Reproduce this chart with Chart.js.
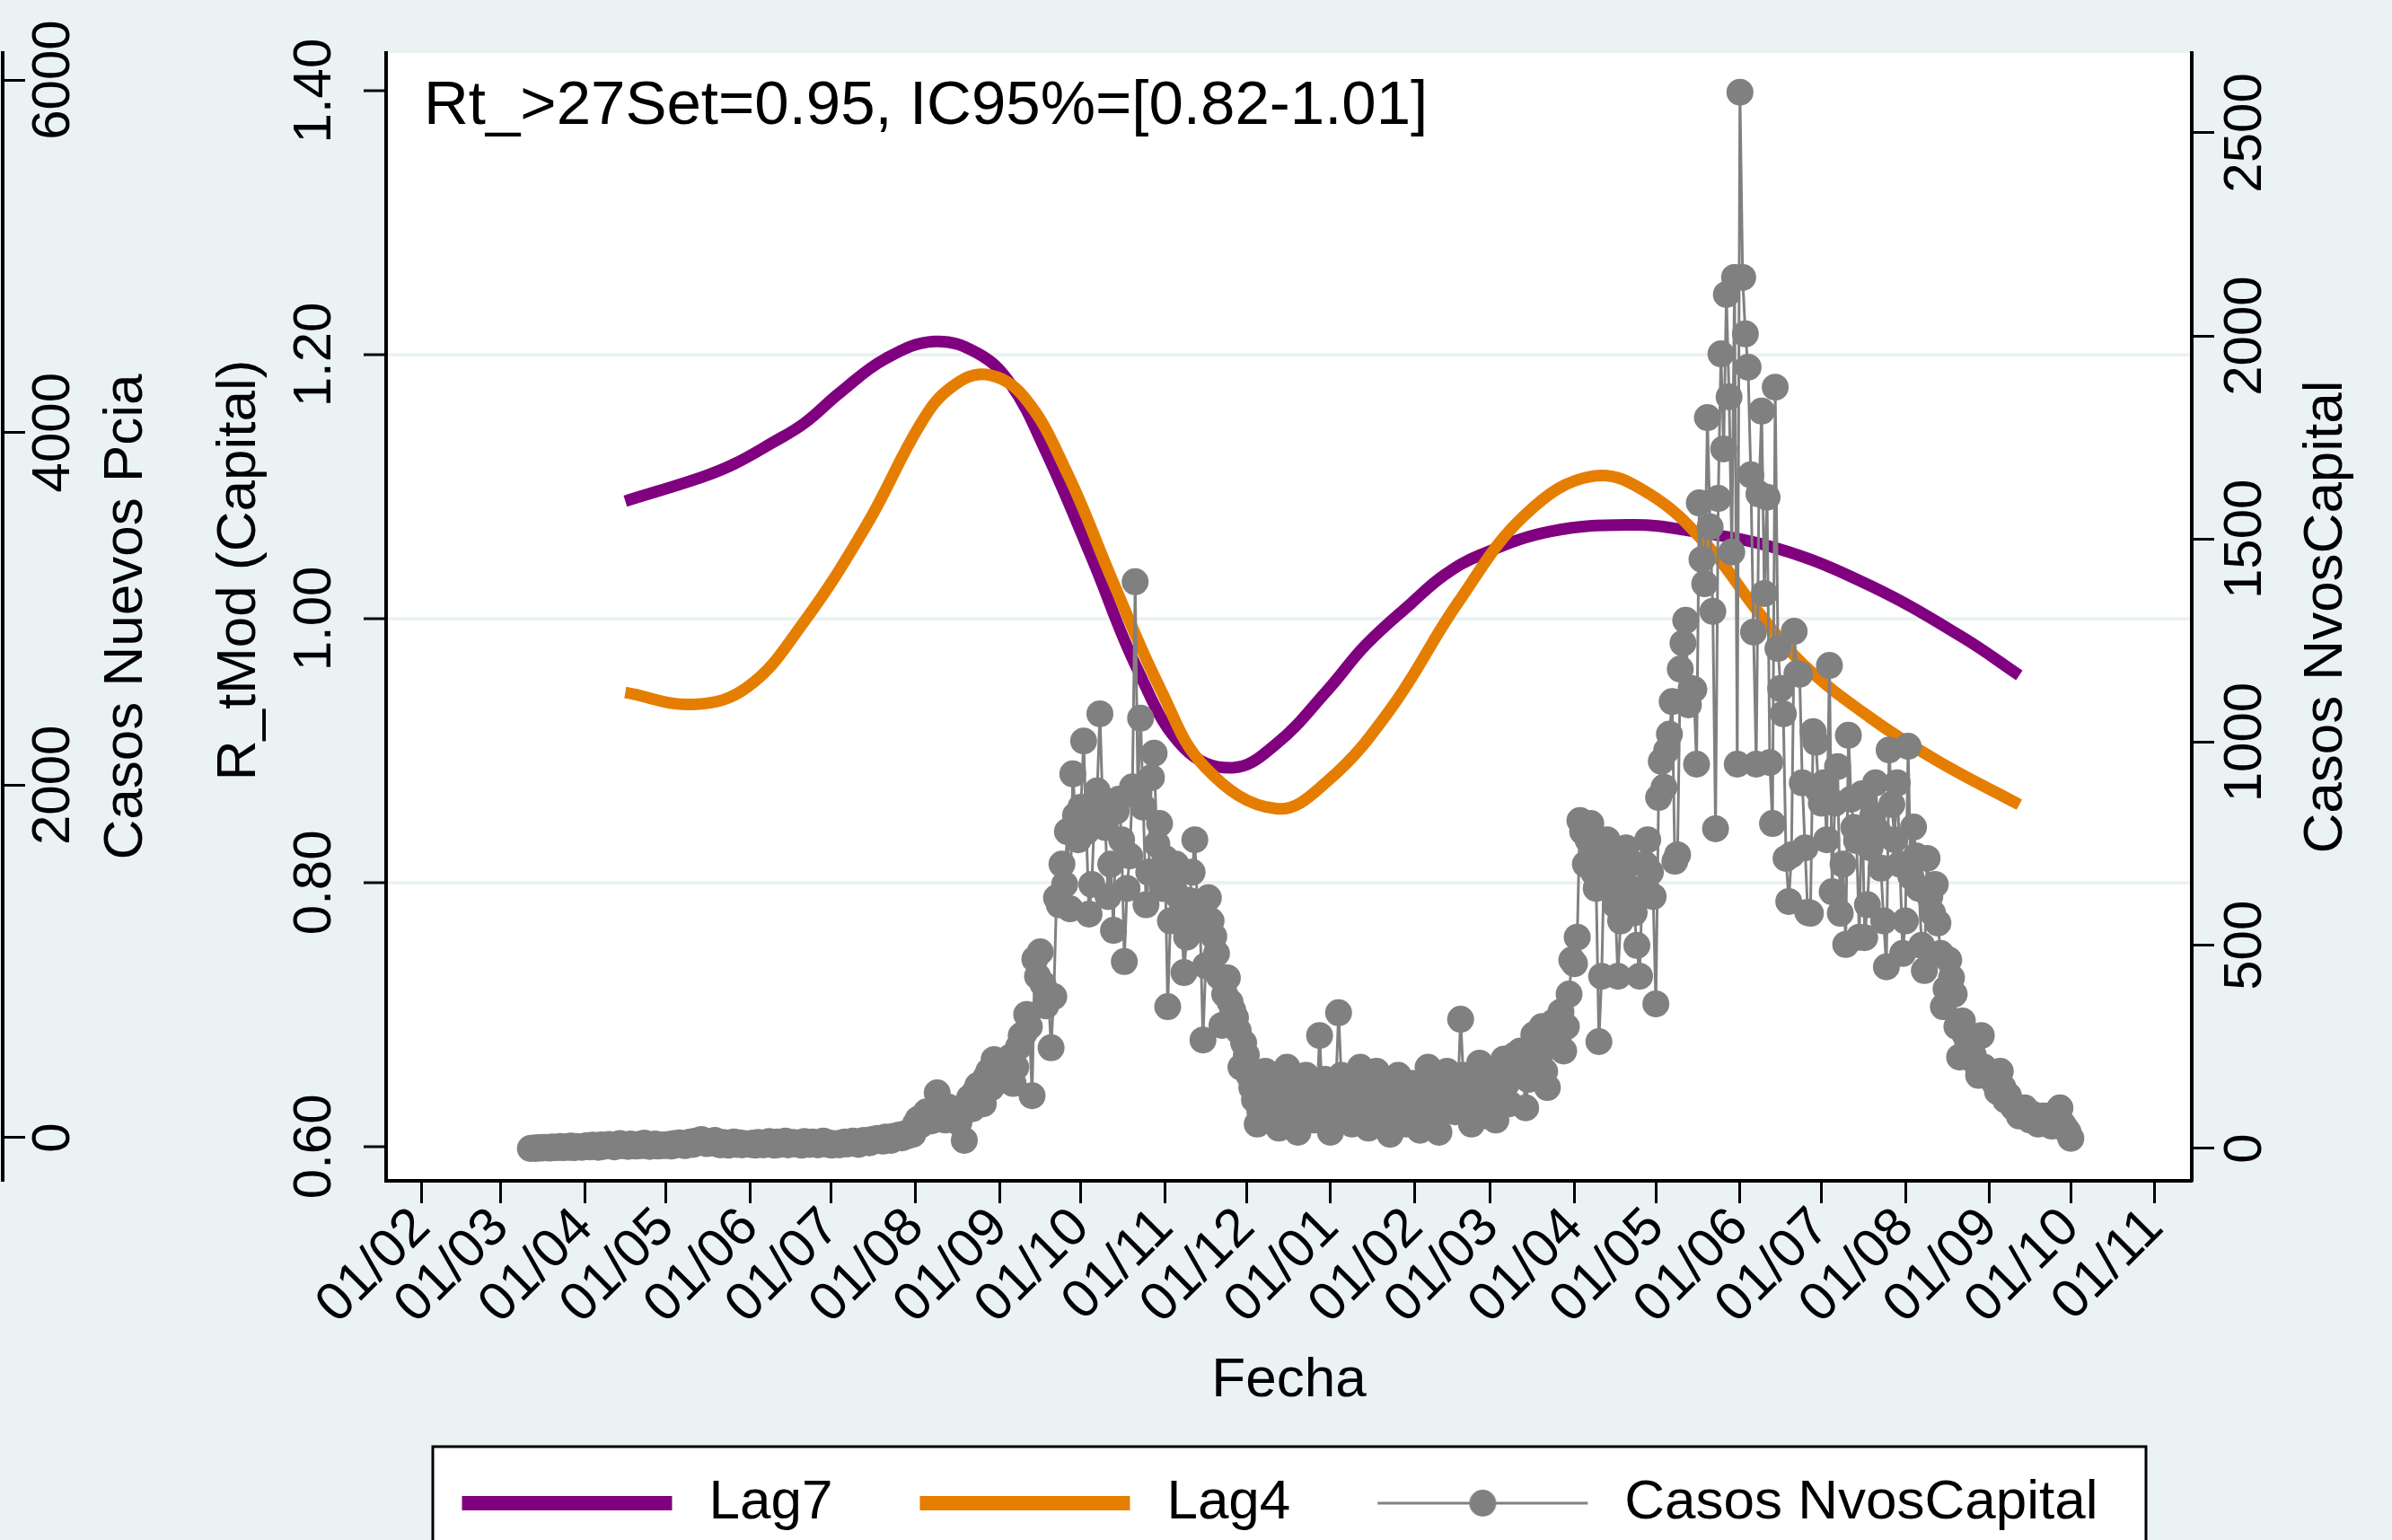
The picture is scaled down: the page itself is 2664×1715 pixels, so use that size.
<!DOCTYPE html>
<html>
<head>
<meta charset="utf-8">
<title>Rt Capital</title>
<script src="https://cdn.jsdelivr.net/npm/chart.js@4.4.1/dist/chart.umd.min.js"></script>
<style>
  html, body { margin: 0; padding: 0; background: #eaf2f3; }
  #wrap { width: 2664px; height: 1715px; }
</style>
</head>
<body>
<div id="wrap"><canvas id="rtChart"></canvas></div>
<script>
const bgColor = '#eaf2f3';
const purple = '#800080';
const orange = '#e57e00';
const gray = '#808080';

// x values are days counted from 01/02/2020
const dayZero = Date.UTC(2020, 1, 1);
function dayNum(s) {
    const [y, m, d] = s.split('-').map(Number);
    return (Date.UTC(y, m - 1, d) - dayZero) / 86400000;
}

const xTickDates = ['2020-02-01', '2020-03-01', '2020-04-01', '2020-05-01', '2020-06-01', '2020-07-01',
    '2020-08-01', '2020-09-01', '2020-10-01', '2020-11-01', '2020-12-01', '2021-01-01', '2021-02-01',
    '2021-03-01', '2021-04-01', '2021-05-01', '2021-06-01', '2021-07-01', '2021-08-01', '2021-09-01',
    '2021-10-01', '2021-11-01'];
const xTickLabels = ['01/02', '01/03', '01/04', '01/05', '01/06', '01/07', '01/08', '01/09', '01/10',
    '01/11', '01/12', '01/01', '01/02', '01/03', '01/04', '01/05', '01/06', '01/07', '01/08', '01/09',
    '01/10', '01/11'];
const rTicks = [0.6, 0.8, 1.0, 1.2, 1.4];
const casosTicks = [0, 500, 1000, 1500, 2000, 2500];
const pciaTicks = [0, 2000, 4000, 6000];

const rtNote = 'Rt_>27Set=0.95, IC95%=[0.82-1.01]';

// R curves
const lag7Dates = ['2020-04-16', '2020-05-14', '2020-05-26', '2020-06-09', '2020-06-21', '2020-07-04',
    '2020-07-21', '2020-08-08', '2020-08-24', '2020-09-05', '2020-09-18', '2020-10-05', '2020-10-22',
    '2020-11-08', '2020-11-26', '2020-12-12', '2020-12-31', '2021-01-14', '2021-01-31', '2021-02-12',
    '2021-02-25', '2021-03-23', '2021-04-22', '2021-05-12', '2021-06-15', '2021-07-19', '2021-08-22',
    '2021-09-12'];
const lag7 = [1.089, 1.107, 1.117, 1.133, 1.148, 1.171, 1.197, 1.210, 1.201, 1.178, 1.127, 1.046, 0.961,
    0.902, 0.887, 0.905, 0.946, 0.980, 1.012, 1.033, 1.048, 1.066, 1.071, 1.067, 1.053, 1.025, 0.986,
    0.957];

const lag4Dates = ['2020-04-16', '2020-05-11', '2020-05-31', '2020-06-20', '2020-07-14', '2020-08-03',
    '2020-08-14', '2020-08-27', '2020-09-10', '2020-09-26', '2020-10-13', '2020-10-30', '2020-11-16',
    '2020-12-12', '2020-12-31', '2021-01-23', '2021-02-17', '2021-03-14', '2021-04-08', '2021-04-29',
    '2021-05-21', '2021-06-07', '2021-06-24', '2021-07-19', '2021-08-13', '2021-09-12'];
const lag4 = [0.944, 0.935, 0.948, 0.995, 1.071, 1.148, 1.175, 1.185, 1.168, 1.110, 1.027, 0.948, 0.887,
    0.856, 0.877, 0.931, 1.012, 1.079, 1.108, 1.094, 1.053, 1.007, 0.966, 0.925, 0.892, 0.859];

// daily new cases (Capital), one value per day from casosStart
const casosStart = '2020-03-12';
const casosCapital = [
    0, 1, 0, 2, 1, 3, 2, 1, 4, 2, 3, 5, 2, 4, 3, 6, 2, 5, 4, 3,                                   // mar 2020
    5, 7, 4, 8, 6, 3, 9, 5, 7, 10, 6, 4, 8, 12, 7, 9, 5, 11, 8, 6, 10, 7, 13, 9, 5, 8, 11, 6, 9, 7,  // abr
    8, 10, 6, 12, 9, 14, 11, 7, 13, 16, 10, 18, 15, 22, 19, 12, 17, 14, 20, 11, 9, 15, 13, 8, 12, 16, 10, 14, 9, 12, 11,
    10, 13, 8, 15, 11, 9, 14, 17, 12, 8, 16, 10, 13, 18, 9, 12, 15, 11, 14, 8, 17, 13, 10, 16, 12, 9, 15, 18, 11, 14,
    8, 10, 12, 9, 14, 16, 11, 15, 18, 13, 10, 17, 20, 16, 14, 22, 19, 25, 21, 18, 28, 24, 20, 30, 27, 33, 26, 36, 31, 40, 35,
    60, 72, 58, 80, 90, 75, 68, 85, 137, 95, 88, 70, 102, 98, 92, 78, 64, 85, 20, 110, 125, 98, 140, 155, 130, 110, 175, 190, 150, 219, 185,
    190, 200, 175, 210, 225, 160, 200, 250, 278, 283, 330, 300, 130, 466, 424, 484, 405, 351, 380, 248, 374, 617, 600, 700, 650, 780, 590, 922, 820, 760,
    840, 1003, 780, 577, 650, 820, 880, 1070, 850, 790, 620, 700, 537, 830, 860, 760, 460, 640, 720, 890, 1395, 880, 1059, 840, 600, 680, 913, 973, 749, 800, 640,
    714, 349, 560, 650, 700, 620, 580, 433, 520, 610, 680, 760, 590, 540, 267, 450, 617, 560, 522, 480, 424, 303, 380, 420, 360, 340, 322, 290, 200, 260,
    230, 180, 150, 120, 60, 90, 160, 190, 140, 100, 170, 130, 50, 110, 150, 200, 130, 170, 90, 40, 100, 140, 180, 150, 110, 70, 120, 278, 130, 170, 90,
    40, 90, 150, 334, 180, 140, 160, 120, 60, 100, 170, 200, 150, 130, 50, 100, 160, 190, 140, 110, 170, 70, 35, 120, 150, 180, 130, 100, 60, 110, 160, // ene 2021
    140, 100, 45, 120, 170, 200, 150, 110, 70, 40, 130, 160, 190, 120, 170, 90, 140, 318, 180, 130, 100, 60, 110, 160, 210, 150, 120, 80,
    120, 170, 70, 150, 200, 220, 160, 110, 190, 230, 210, 240, 180, 100, 170, 250, 280, 260, 220, 300, 190, 150, 260, 310, 290, 270, 336, 240, 300, 380, 464,
    455, 520, 807, 780, 700, 760, 800, 680, 640, 263, 424, 720, 760, 700, 650, 600, 424, 560, 680, 740, 700, 620, 580, 500, 424, 640, 700, 760, 680, 620,
    356, 864, 953, 889, 980, 1020, 1100, 707, 723, 1180, 1244, 1300, 1092, 1132, 1130, 946, 1589, 1450, 1390, 1799, 1530, 1322, 787, 1600, 1956, 1722, 2102, 1850, 1468, 2144, 946,
    2600, 2144, 2005, 1923, 1658, 1271, 946, 1611, 1815, 1366, 1603, 950, 800, 1874, 1231, 1132, 1070, 714, 608, 723, 1273, 1169, 1167, 900, 740, 581, 579, 1026, 1000, 880,
    850, 900, 760, 1189, 632, 850, 940, 579, 700, 502, 1017, 860, 790, 758, 520, 873, 519, 600, 740, 820, 900, 780, 690, 560, 447, 981, 847, 760, 900, 700, 480,
    560, 990, 670, 791, 720, 640, 500, 438, 714, 620, 580, 650, 555, 480, 349, 393, 464, 420, 380, 300, 225, 314, 280, 260, 240, 230, 210, 180, 278, 200, 190,
    180, 170, 160, 140, 190, 150, 119, 130, 110, 100, 95, 80, 90, 100, 85, 70, 84, 75, 60, 65, 80, 70, 60, 55, 70, 90, 100, 60, 50, 40,
    25                                                                                               // 01/10/2021
];

// little pictures used as legend keys
function legendSample(color, width, dotRadius) {
    const c = document.createElement('canvas');
    c.width = 254;
    c.height = 40;
    const g = c.getContext('2d');
    g.strokeStyle = color;
    g.lineWidth = width;
    g.beginPath();
    g.moveTo(10, 20);
    g.lineTo(244, 20);
    g.stroke();
    if (dotRadius) {
        g.fillStyle = color;
        g.beginPath();
        g.arc(127, 20, dotRadius, 0, Math.PI * 2);
        g.fill();
    }
    return c;
}
const legendSamples = [legendSample(purple, 16), legendSample(orange, 16), legendSample(gray, 3, 15)];

function uprightText(ctx, text, x, y) {
    ctx.save();
    ctx.translate(x, y);
    ctx.rotate(-Math.PI / 2);
    ctx.textAlign = 'center';
    ctx.fillText(text, 0, 0);
    ctx.restore();
}

// background, plot region, legend frame, the Rt note and two axis titles
const decorations = {
    id: 'decorations',
    afterLayout(chart) {
        const lg = chart.legend;
        const ca = chart.chartArea;
        const shift = (ca.left + ca.right - chart.width) / 2 - 15;
        lg.left += shift;
        lg.right += shift;
    },
    beforeDraw(chart) {
        const { ctx, chartArea: ca, legend } = chart;
        ctx.save();
        ctx.fillStyle = bgColor;
        ctx.fillRect(0, 0, chart.width, chart.height);
        ctx.fillStyle = '#ffffff';
        ctx.fillRect(ca.left, ca.top, ca.right - ca.left, ca.bottom - ca.top);
        const bx = ca.left + 52, by = legend.top + 55, bw = ca.right - ca.left - 103;
        ctx.fillRect(bx, by, bw, chart.height);
        ctx.strokeStyle = '#000000';
        ctx.lineWidth = 3;
        ctx.strokeRect(bx, by, bw, chart.height);
        ctx.restore();
    },
    afterDraw(chart) {
        const { ctx, chartArea: ca, scales } = chart;
        const midY = (ca.top + ca.bottom) / 2;
        ctx.save();
        ctx.fillStyle = '#000000';
        ctx.textBaseline = 'middle';
        ctx.font = '69px "Liberation Sans", Arial, sans-serif';
        ctx.fillText(rtNote, ca.left + 42, ca.top + 60);
        ctx.font = '62px "Liberation Sans", Arial, sans-serif';
        uprightText(ctx, scales.y.options.title.text, scales.y.left + 264, midY - 52);
        uprightText(ctx, scales.y1.options.title.text, scales.y1.right - 73, midY);
        ctx.restore();
    }
};

Chart.defaults.font.family = '"Liberation Sans", Arial, sans-serif';
Chart.defaults.color = '#000000';

const startDay = dayNum(casosStart);
const titleFont = { size: 62, lineHeight: 1 };
const tickFont = { size: 60 };

new Chart(document.getElementById('rtChart'), {
    type: 'line',
    data: {
        datasets: [
            {
                label: 'Lag7',
                data: lag7Dates.map((d, i) => ({ x: dayNum(d), y: lag7[i] })),
                yAxisID: 'y',
                borderColor: purple,
                borderWidth: 13,
                pointRadius: 0,
                tension: 0.4,
                order: 2
            },
            {
                label: 'Lag4',
                data: lag4Dates.map((d, i) => ({ x: dayNum(d), y: lag4[i] })),
                yAxisID: 'y',
                borderColor: orange,
                borderWidth: 13,
                pointRadius: 0,
                tension: 0.4,
                order: 1
            },
            {
                label: 'Casos NvosCapital',
                data: casosCapital.map((v, i) => ({ x: startDay + i, y: v })),
                yAxisID: 'y1',
                borderColor: gray,
                borderWidth: 3,
                pointRadius: 15,
                pointBorderWidth: 0,
                pointBackgroundColor: gray,
                order: 0
            }
        ]
    },
    options: {
        responsive: true,
        maintainAspectRatio: false,
        animation: false,
        events: [],
        layout: { padding: { top: 59, left: 0, right: 0, bottom: 0 } },
        plugins: {
            tooltip: { enabled: false },
            legend: {
                position: 'bottom',
                labels: {
                    usePointStyle: true,
                    pointStyleWidth: 254,
                    boxHeight: 30,
                    padding: 87,
                    color: '#000000',
                    font: { size: 62 },
                    generateLabels: (chart) => chart.data.datasets.map((ds, i) => ({
                        text: ds.label,
                        pointStyle: legendSamples[i],
                        datasetIndex: i,
                        fontColor: '#000000',
                        fillStyle: 'transparent',
                        strokeStyle: 'transparent',
                        lineWidth: 0,
                        hidden: false
                    }))
                }
            }
        },
        scales: {
            x: {
                type: 'linear',
                position: 'bottom',
                min: -13.2,
                max: 652.6,
                afterBuildTicks: (axis) => { axis.ticks = xTickDates.map(d => ({ value: dayNum(d) })); },
                afterFit: (scale) => { scale.height = 241; },
                ticks: {
                    autoSkip: false,
                    minRotation: 45,
                    maxRotation: 45,
                    padding: -8,
                    font: { size: 60 },
                    callback: (v, i) => xTickLabels[i]
                },
                grid: { drawOnChartArea: false, tickLength: 25, tickColor: '#000000', tickWidth: 3 },
                border: { color: '#000000', width: 4 },
                title: { display: true, text: 'Fecha', font: titleFont, padding: { top: 0, bottom: -13 } }
            },
            y: {
                position: 'left',
                weight: 0,
                min: 0.574,
                max: 1.4286,
                afterBuildTicks: (axis) => { axis.ticks = rTicks.map(v => ({ value: v })); },
                afterFit: (scale) => { scale.width = 427; },
                ticks: {
                    autoSkip: false,
                    minRotation: 90,
                    maxRotation: 90,
                    crossAlign: 'center',
                    padding: -5,
                    font: tickFont,
                    callback: (v) => v.toFixed(2)
                },
                grid: {
                    color: (c) => (c.index === 0 || c.index === rTicks.length - 1) ? 'rgba(0,0,0,0)' : bgColor,
                    lineWidth: 4,
                    tickLength: 25,
                    tickColor: '#000000',
                    tickWidth: 3
                },
                border: { color: '#000000', width: 4 },
                title: { display: false, text: 'R_tMod (Capital)' }
            },
            yPcia: {
                position: 'left',
                weight: 1,
                min: -244.5,
                max: 6153,
                afterBuildTicks: (axis) => { axis.ticks = pciaTicks.map(v => ({ value: v })); },
                afterFit: (scale) => { scale.width = 3; },
                ticks: {
                    autoSkip: false,
                    mirror: true,
                    minRotation: 90,
                    maxRotation: 90,
                    crossAlign: 'center',
                    padding: -9,
                    font: tickFont,
                    callback: (v) => String(v)
                },
                grid: { drawOnChartArea: false, tickLength: -25, tickColor: '#000000', tickWidth: 3 },
                border: { color: '#000000', width: 4 },
                title: { display: true, text: 'Casos Nuevos Pcia', font: titleFont, padding: { top: 110, bottom: 0 } }
            },
            y1: {
                position: 'right',
                min: -79.6,
                max: 2696.5,
                afterBuildTicks: (axis) => { axis.ticks = casosTicks.map(v => ({ value: v })); },
                afterFit: (scale) => { scale.width = 223; },
                ticks: {
                    autoSkip: false,
                    minRotation: 90,
                    maxRotation: 90,
                    crossAlign: 'center',
                    padding: -31,
                    font: tickFont,
                    callback: (v) => String(v)
                },
                grid: { drawOnChartArea: false, tickLength: 25, tickColor: '#000000', tickWidth: 3 },
                border: { color: '#000000', width: 4 },
                title: { display: false, text: 'Casos NvosCapital' }
            }
        }
    },
    plugins: [decorations]
});
</script>
</body>
</html>
